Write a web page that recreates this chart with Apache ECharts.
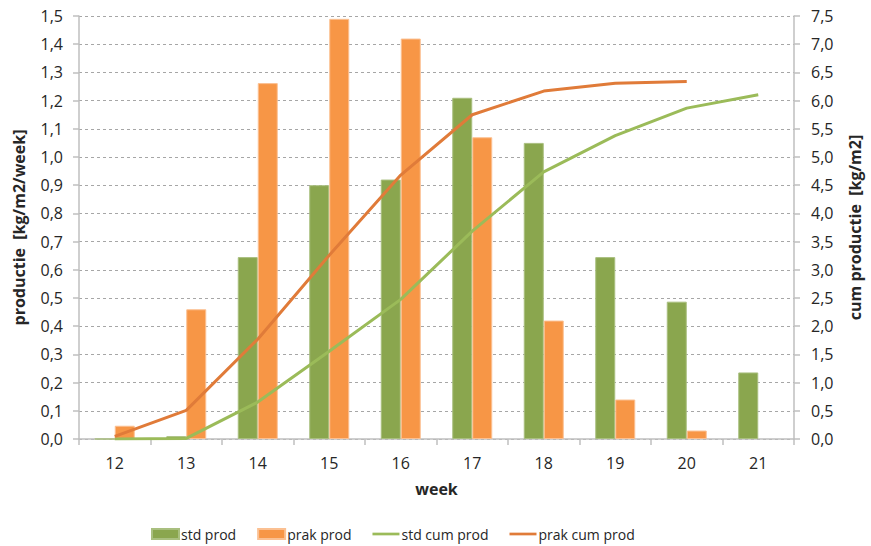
<!DOCTYPE html>
<html>
<head>
<meta charset="utf-8">
<script src="https://cdn.jsdelivr.net/npm/echarts@6/dist/echarts.min.js"></script>
<style>
  html, body { margin: 0; padding: 0; background: #fff; }
  #chart { width: 871px; height: 546px; }
</style>
</head>
<body>
<div id="chart"></div>
<script>
var weeks = ['12', '13', '14', '15', '16', '17', '18', '19', '20', '21'];
var stdProd = [0, 0.01, 0.645, 0.90, 0.92, 1.21, 1.05, 0.645, 0.487, 0.236];
var prakProd = [0.047, 0.46, 1.262, 1.49, 1.42, 1.07, 0.42, 0.14, 0.03, null];
var stdCum = [0, 0.01, 0.655, 1.555, 2.475, 3.685, 4.735, 5.38, 5.867, 6.103];
var prakCum = [0.047, 0.507, 1.769, 3.259, 4.679, 5.749, 6.169, 6.309, 6.339, null];

var green = '#8aa64e';
var orange = '#f79646';
var greenLine = '#9bbb59';
var orangeLine = '#e07b39';
var axisGray = '#bfbfbf';
var gridGray = '#a6a6a6';
var ink = '#262626';
var font = '"Open Sans", Lato, sans-serif';
var lineIcon = 'path://M0,0 H30 V3 H0 Z';

function comma(v) { return v.toFixed(1).replace('.', ','); }

var chart = echarts.init(document.getElementById('chart'), null, { renderer: 'svg' });
chart.setOption({
  animation: false,
  textStyle: { fontFamily: font, color: ink },
  grid: { left: 79, right: 72, top: 16, bottom: 107 },
  legend: {
    left: 146, bottom: 0,
    itemWidth: 27, itemHeight: 10, itemGap: 21,
    textStyle: { fontSize: 14, color: ink, fontFamily: font, padding: [0, 0, 0, -3] },
    data: [
      { name: 'std prod', icon: 'rect' },
      { name: 'prak prod', icon: 'rect' },
      { name: 'std cum prod', icon: lineIcon },
      { name: 'prak cum prod', icon: lineIcon }
    ]
  },
  xAxis: {
    type: 'category',
    data: weeks,
    name: 'week', nameLocation: 'middle', nameGap: 42,
    nameTextStyle: { fontSize: 16, fontWeight: 'bold', color: ink },
    axisLine: { lineStyle: { color: axisGray, width: 1.5 } },
    axisTick: { show: true, length: 6, lineStyle: { color: axisGray, width: 1.5 } },
    axisLabel: { fontSize: 16, color: ink, margin: 16 }
  },
  yAxis: [{
    type: 'value', min: 0, max: 1.5, interval: 0.1,
    name: 'productie  [kg/m2/week]', nameLocation: 'middle', nameGap: 52, nameRotate: 90,
    nameTextStyle: { fontSize: 16, fontWeight: 'bold', color: ink },
    axisLine: { show: true, lineStyle: { color: axisGray, width: 1.5 } },
    axisTick: { show: true, length: 6, lineStyle: { color: axisGray, width: 1.5 } },
    axisLabel: { fontSize: 16, color: ink, margin: 16, formatter: comma },
    splitLine: { lineStyle: { color: gridGray, type: [3, 3] } }
  }, {
    type: 'value', min: 0, max: 7.5, interval: 0.5,
    name: 'cum productie  [kg/m2]', nameLocation: 'middle', nameGap: 53, nameRotate: 90,
    nameTextStyle: { fontSize: 16, fontWeight: 'bold', color: ink },
    axisLine: { show: true, lineStyle: { color: axisGray, width: 1.5 } },
    axisTick: { show: true, length: 6, lineStyle: { color: axisGray, width: 1.5 } },
    axisLabel: { fontSize: 16, color: ink, margin: 17, formatter: comma },
    splitLine: { show: false }
  }],
  series: [
    { name: 'std prod', type: 'bar', data: stdProd, barWidth: 20, barGap: '0%',
      itemStyle: { color: green, borderColor: '#a9bf7f', borderWidth: 1 } },
    { name: 'prak prod', type: 'bar', data: prakProd, barWidth: 20, barGap: '0%',
      itemStyle: { color: orange, borderColor: '#fbc092', borderWidth: 1 } },
    { name: 'std cum prod', type: 'line', yAxisIndex: 1, data: stdCum, symbol: 'none',
      lineStyle: { color: greenLine, width: 3 }, itemStyle: { color: greenLine } },
    { name: 'prak cum prod', type: 'line', yAxisIndex: 1, data: prakCum, symbol: 'none',
      lineStyle: { color: orangeLine, width: 3 }, itemStyle: { color: orangeLine } }
  ]
});
</script>
</body>
</html>
